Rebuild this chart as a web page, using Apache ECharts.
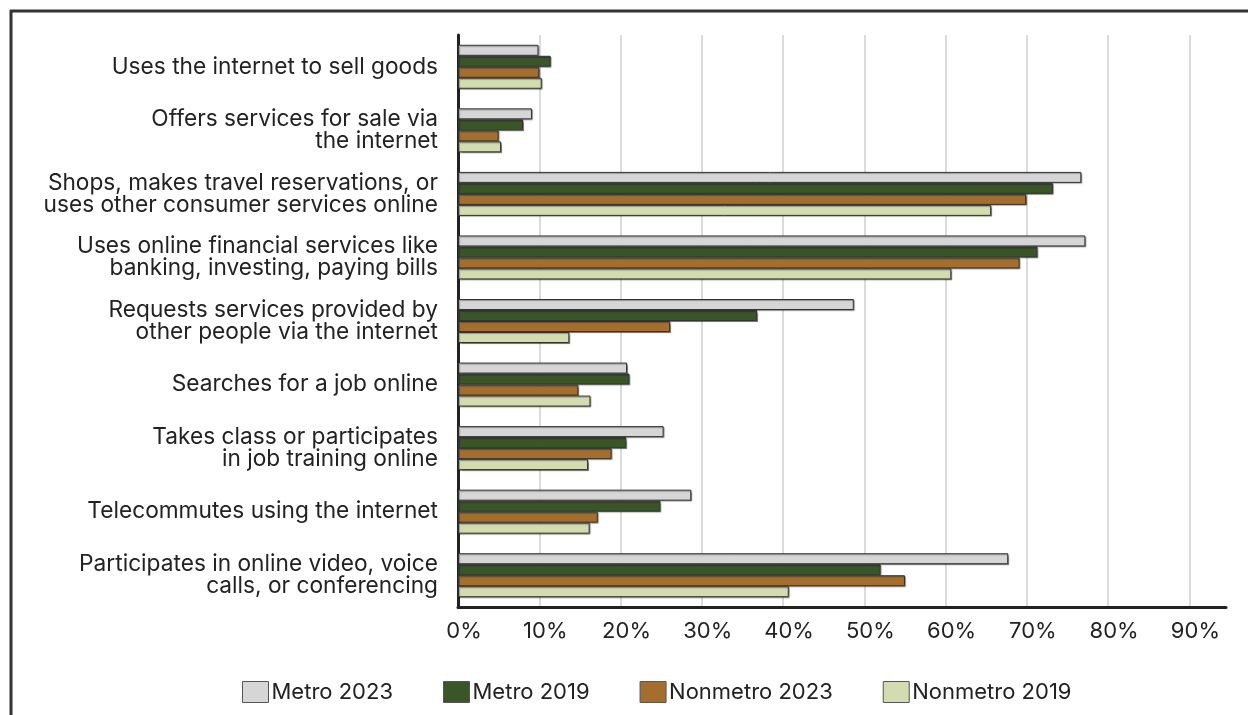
<!DOCTYPE html>
<html>
<head>
<meta charset="utf-8">
<script src="https://cdn.jsdelivr.net/npm/echarts@6/dist/echarts.min.js"></script>
<style>
html,body{margin:0;padding:0;background:#fff;}
#chart{width:1248px;height:715px;}
</style>
</head>
<body>
<div id="chart"></div>
<script>
const categories = [
  "Uses the internet to sell goods",
  "Offers services for sale via\nthe internet",
  "Shops, makes travel reservations, or\nuses other consumer services online",
  "Uses online financial services like\nbanking, investing, paying bills",
  "Requests services provided by\nother people via the internet",
  "Searches for a job online",
  "Takes class or participates\nin job training online",
  "Telecommutes using the internet",
  "Participates in online video, voice\ncalls, or conferencing"
];
const seriesNames = ["Metro 2023", "Metro 2019", "Nonmetro 2023", "Nonmetro 2019"];
const metro2023 = [9.9, 9.1, 76.7, 77.2, 48.7, 20.8, 25.3, 28.7, 67.7];
const metro2019 = [11.4, 8.0, 73.2, 71.3, 36.8, 21.1, 20.7, 24.9, 52.0];
const nonmetro2023 = [10.0, 5.0, 69.9, 69.1, 26.1, 14.8, 18.9, 17.2, 55.0];
const nonmetro2019 = [10.3, 5.3, 65.6, 60.7, 13.7, 16.3, 16.0, 16.2, 40.7];
const colors = ["#d6d6d6", "#3a5629", "#a46f2e", "#d3dcb1"];

const FONT = "Inter";
const values = [metro2023, metro2019, nonmetro2023, nonmetro2019];

const chart = echarts.init(document.getElementById('chart'), null, {renderer: 'canvas'});
chart.setOption({
  animation: false,
  textStyle: {fontFamily: FONT, color: '#222'},
  grid: {left: 458, right: 22, top: 35, bottom: 108, containLabel: false},
  legend: {
    left: 237, top: 676,
    itemWidth: 26, itemHeight: 21, itemGap: 50,
    icon: 'rect',
    textStyle: {fontFamily: FONT, fontSize: 22, color: '#222', padding: [0,0,0,-2]},
    itemStyle: {borderColor: '#555', borderWidth: 1},
    data: seriesNames
  },
  xAxis: {
    type: 'value', min: 0, max: 94.5, interval: 10,
    axisLine: {show: true, lineStyle: {color: '#222', width: 3}},
    axisTick: {show: false},
    splitLine: {show: true, showMaxLine: false, lineStyle: {color: '#cfcfcf', width: 1.5}},
    axisLabel: {
      fontFamily: FONT, fontSize: 22, color: '#222', margin: 13,
      showMaxLabel: false, padding: [0,0,0,12],
      formatter: v => v + '%'
    }
  },
  yAxis: {
    type: 'category', inverse: true, data: categories,
    axisLine: {show: true, lineStyle: {color: '#222', width: 3}},
    axisTick: {show: false},
    axisLabel: {fontFamily: FONT, fontSize: 22.7, color: '#222', margin: 20, lineHeight: 22, align: 'right'}
  },
  graphic: [
    {type: 'line', shape: {x1: 10, y1: 11, x2: 1248, y2: 11}, style: {stroke: '#333', lineWidth: 3}, z: 100},
    {type: 'line', shape: {x1: 11, y1: 10, x2: 11, y2: 715}, style: {stroke: '#333', lineWidth: 3}, z: 100}
  ],
  series: seriesNames.map((name, i) => ({
    name: name,
    type: 'bar',
    data: values[i],
    barWidth: 11,
    barGap: '0%',
    itemStyle: {
      color: colors[i], borderColor: '#333', borderWidth: 1,
      shadowColor: 'rgba(0,0,0,0.35)', shadowBlur: 1, shadowOffsetX: 1, shadowOffsetY: 1
    }
  }))
});
</script>
</body>
</html>
